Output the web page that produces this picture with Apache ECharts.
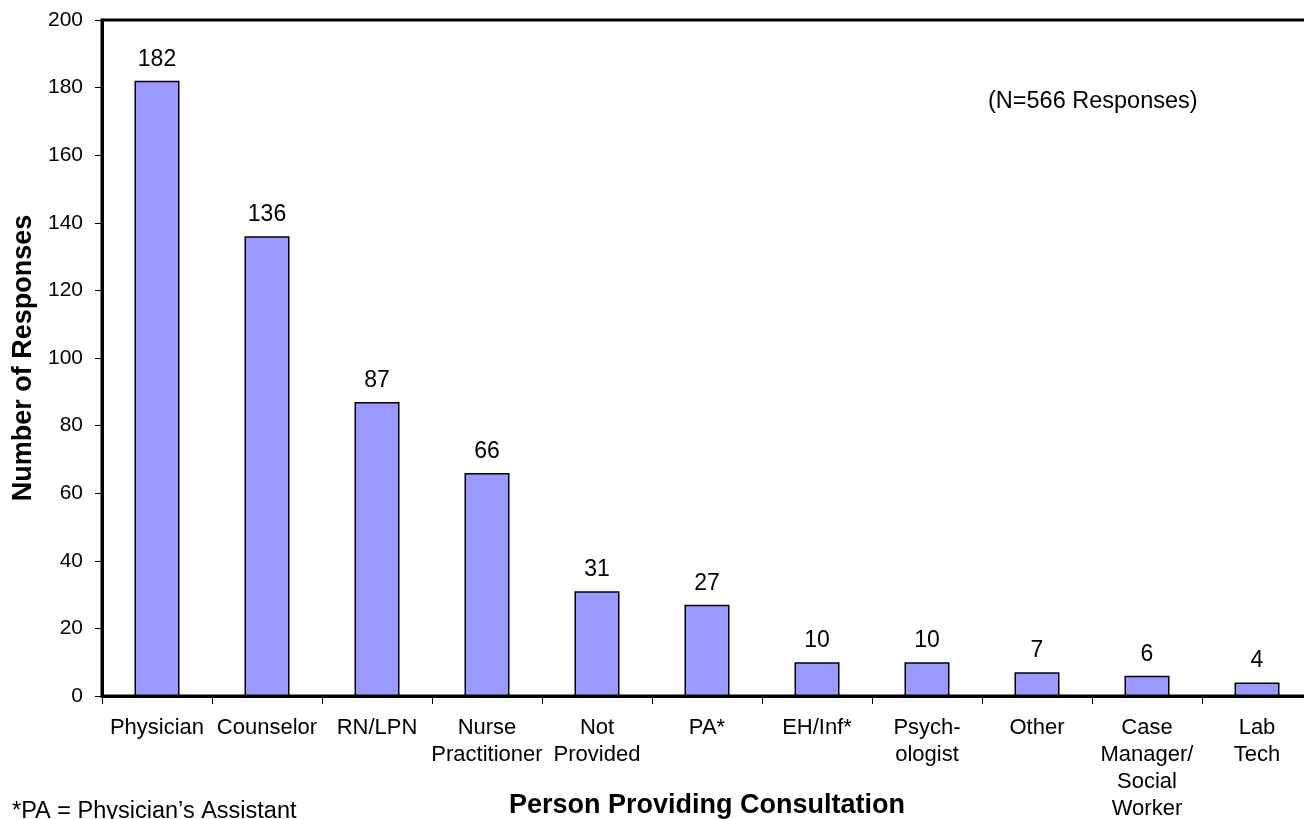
<!DOCTYPE html>
<html>
<head>
<meta charset="utf-8">
<script src="https://cdn.jsdelivr.net/npm/echarts@6/dist/echarts.min.js"></script>
<style>
html,body{margin:0;padding:0;background:#fff;}
#chart{width:1304px;height:819px;}
</style>
</head>
<body>
<div id="chart"></div>
<script>
const categories = ["Physician", "Counselor", "RN/LPN", "Nurse\nPractitioner", "Not\nProvided", "PA*", "EH/Inf*", "Psych-\nologist", "Other", "Case\nManager/\nSocial\nWorker", "Lab\nTech"];
const responses = [182, 136, 87, 66, 31, 27, 10, 10, 7, 6, 4];
const yTicks = {min: 0, max: 200, interval: 20};
const xTitle = "Person Providing Consultation";
const yTitle = "Number of Responses";
const noteText = "(N=566 Responses)";
const footnote = "*PA = Physician\u2019s Assistant";

const font = "'Liberation Sans', Arial, sans-serif";
const chart = echarts.init(document.getElementById('chart'), null, {renderer: 'canvas'});
chart.setOption({
  animation: false,
  backgroundColor: '#ffffff',
  grid: {left: 102, top: 20, width: 1210, height: 676, show: true, borderColor: '#000', borderWidth: 3, backgroundColor: 'transparent', containLabel: false, outerBoundsMode: 'none'},
  xAxis: {
    type: 'category',
    data: categories,
    axisLine: {lineStyle: {color: '#000', width: 3}},
    axisTick: {show: true, length: 8, lineStyle: {color: '#000', width: 1}},
    axisLabel: {color: '#000', fontFamily: font, fontSize: 22, lineHeight: 27, margin: 18, interval: 0}
  },
  yAxis: {
    type: 'value',
    min: yTicks.min, max: yTicks.max, interval: yTicks.interval,
    splitLine: {show: false},
    axisLine: {show: true, lineStyle: {color: '#000', width: 3}},
    axisTick: {show: true, length: 7, lineStyle: {color: '#000', width: 1}},
    axisLabel: {color: '#000', fontFamily: font, fontSize: 21, margin: 19},
    name: yTitle,
    nameLocation: 'middle',
    nameGap: 65,
    nameTextStyle: {color: '#000', fontFamily: font, fontSize: 27, fontWeight: 'bold'}
  },
  series: [{
    type: 'bar',
    data: responses,
    barWidth: 45,
    itemStyle: {color: '#9999FF', borderColor: '#000', borderWidth: 1.5},
    label: {show: true, position: 'top', distance: 10, color: '#000', fontFamily: font, fontSize: 23}
  }],
  graphic: [
    {type: 'text', x: 707, y: 806, style: {text: xTitle, fill: '#000', font: 'bold 27px ' + font, textAlign: 'center', textVerticalAlign: 'middle'}},
    {type: 'text', left: 988, top: 90, style: {text: noteText, fill: '#000', font: '23.5px ' + font}},
    {type: 'text', left: 12, top: 800, style: {text: footnote, fill: '#000', font: '23.5px ' + font}}
  ]
});
</script>
</body>
</html>
